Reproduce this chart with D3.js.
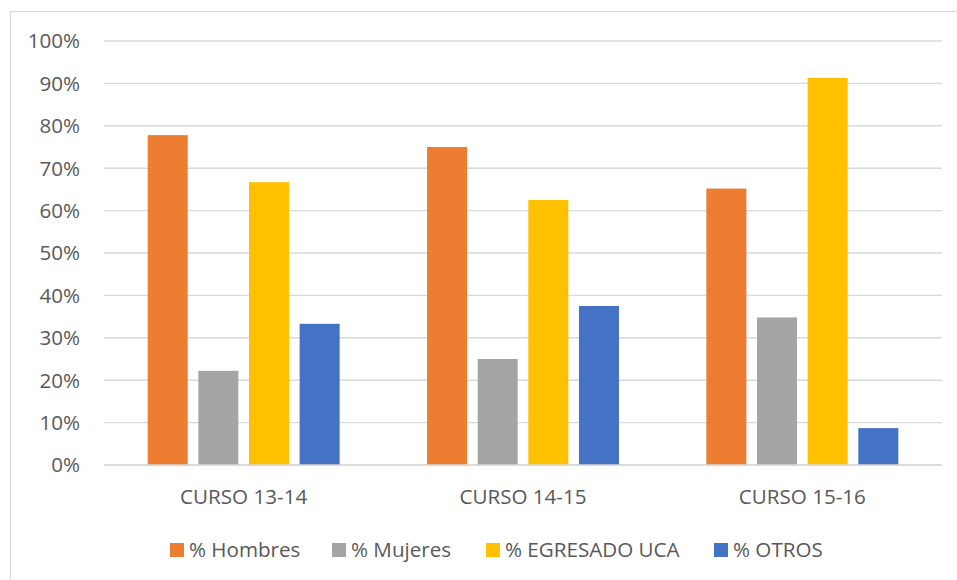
<!DOCTYPE html>
<html><head><meta charset="utf-8">
<script src="https://cdn.jsdelivr.net/npm/d3@7"></script>
<style>html,body{margin:0;padding:0;background:#fff;}svg{display:block;font-family:"Open Sans",sans-serif;}</style>
</head><body><svg id="c" width="957" height="580"></svg>
<script>
const categories = ["CURSO 13-14", "CURSO 14-15", "CURSO 15-16"];
const seriesNames = ["% Hombres", "% Mujeres", "% EGRESADO UCA", "% OTROS"];
const hombres = [0.778, 0.75, 0.652];
const mujeres = [0.222, 0.25, 0.348];
const egresado = [0.667, 0.625, 0.913];
const otros = [0.333, 0.375, 0.087];
const yTicks = [0, 0.1, 0.2, 0.3, 0.4, 0.5, 0.6, 0.7, 0.8, 0.9, 1.0];
const colors = ["#ED7D31", "#A5A5A5", "#FFC000", "#4472C4"];

const seriesValues = [hombres, mujeres, egresado, otros];
const svg = d3.select("#c");
const textColor = "#595959";
const fs = 20.6;

// chart border
svg.append("rect").attr("x", 10.5).attr("y", 11.5).attr("width", 960).attr("height", 600)
  .attr("fill", "none").attr("stroke", "#D9D9D9").attr("stroke-width", 1.2);

const plot = {left: 104, right: 942, top: 41, bottom: 465};
const y = d3.scaleLinear().domain([0, 1]).range([plot.bottom, plot.top]);
const x0 = d3.scaleBand().domain(categories).range([plot.left, plot.right]).padding(0);
const outer = 43.7;
const x1 = d3.scaleBand().domain(seriesNames).range([outer, x0.bandwidth() - outer]).paddingInner(0.21).paddingOuter(0);

// gridlines
svg.append("g").selectAll("line").data(yTicks).join("line")
  .attr("x1", plot.left).attr("x2", plot.right)
  .attr("y1", d => y(d)).attr("y2", d => y(d))
  .attr("stroke", "#D9D9D9").attr("stroke-width", 1.4);

// y labels
svg.append("g").selectAll("text").data(yTicks).join("text")
  .attr("x", 80).attr("y", d => y(d)).attr("dy", "0.36em")
  .attr("text-anchor", "end").attr("fill", textColor).attr("font-size", fs)
  .text(d => d3.format(".0%")(d));

// bars
const groups = svg.append("g").selectAll("g").data(categories).join("g")
  .attr("transform", c => `translate(${x0(c)},0)`);
groups.selectAll("rect").data((c, ci) => seriesNames.map((s, si) => ({s, si, v: seriesValues[si][ci]})))
  .join("rect")
  .attr("x", d => x1(d.s)).attr("width", x1.bandwidth())
  .attr("y", d => y(d.v)).attr("height", d => y(0) - y(d.v))
  .attr("fill", d => colors[d.si]);

// baseline over bars
svg.append("line").attr("x1", plot.left).attr("x2", plot.right).attr("y1", y(0)).attr("y2", y(0))
  .attr("stroke", "#D9D9D9").attr("stroke-width", 1.4);

// x labels
svg.append("g").selectAll("text").data(categories).join("text")
  .attr("x", c => x0(c) + x0.bandwidth() / 2).attr("y", 504)
  .attr("text-anchor", "middle").attr("fill", textColor).attr("font-size", fs)
  .text(c => c);

// legend
const legX = [170, 332, 486, 714];
const leg = svg.append("g").selectAll("g").data(seriesNames).join("g")
  .attr("transform", (d, i) => `translate(${legX[i]},543)`);
leg.append("rect").attr("width", 14).attr("height", 14).attr("fill", (d, i) => colors[i]);
leg.append("text").attr("x", 19).attr("y", 7).attr("dy", "0.36em")
  .attr("fill", textColor).attr("font-size", fs).text(d => d);
</script></body></html>
